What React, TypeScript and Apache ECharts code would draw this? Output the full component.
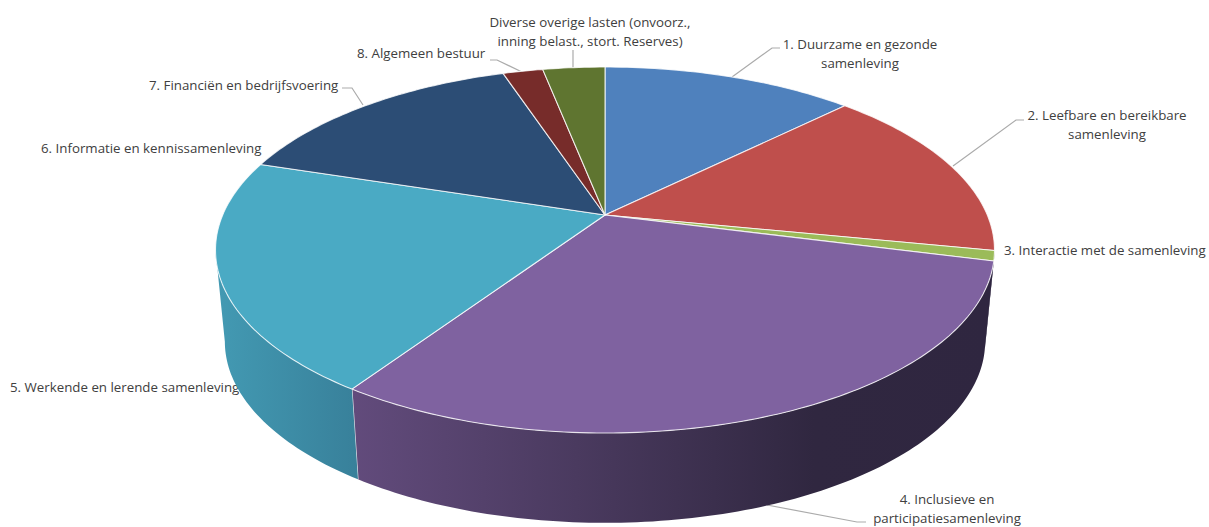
import React, { useEffect, useRef } from "react";
import * as echarts from "echarts";

const labels = [
  "1. Duurzame en gezonde\nsamenleving",
  "2. Leefbare en bereikbare\nsamenleving",
  "3. Interactie met de samenleving",
  "4. Inclusieve en\nparticipatiesamenleving",
  "5. Werkende en lerende samenleving",
  "6. Informatie en kennissamenleving",
  "7. Financiën en bedrijfsvoering",
  "8. Algemeen bestuur",
  "Diverse overige lasten (onvoorz.,\ninning belast., stort. Reserves)",
];
const values = [12.6, 15.5, 0.9, 30.4, 20.5, 0, 15.0, 2.0, 3.1];
const topColors = ["#4f81bd", "#bf4f4c", "#9bbb59", "#7f62a0", "#4aaac4", "#f79646", "#2c4d75", "#772c2a", "#5f7530"];
const wallColors: any[] = [
  "#3f6797",
  "#9a403e",
  "#2f2640",
  new echarts.graphic.LinearGradient(0, 0, 1, 0, [
    { offset: 0, color: "#624b7c" },
    { offset: 0.35, color: "#4a3a5f" },
    { offset: 0.72, color: "#302740" },
    { offset: 1, color: "#2f2640" },
  ]),
  new echarts.graphic.LinearGradient(0, 0, 1, 0, [
    { offset: 0, color: "#439ab3" },
    { offset: 1, color: "#38809a" },
  ]),
  "#c67838",
  "#233e5e",
  "#5f2322",
  "#4c5e26",
];

// Layout of the labels and their leader lines (page pixels)
const labelLayout: { x: number; y: number; align: string }[] = [
  { x: 860, y: 53.5, align: "center" },
  { x: 1107, y: 124.5, align: "center" },
  { x: 1004, y: 250, align: "left" },
  { x: 947, y: 508, align: "center" },
  { x: 10, y: 387, align: "left" },
  { x: 41, y: 148, align: "left" },
  { x: 149, y: 85, align: "left" },
  { x: 357, y: 53, align: "left" },
  { x: 590, y: 31, align: "center" },
];
const leaderLayout: number[][][] = [
  [[732, 77], [772, 48], [780, 48]],
  [[953, 166], [1016, 120], [1024, 120]],
  [],
  [[767, 505], [857, 522], [866, 522]],
  [],
  [],
  [[363, 105], [352, 88], [342, 88]],
  [[522, 72], [497, 60], [490, 60]],
  [[573, 68], [573, 50]],
];

// Projection of the tilted disc
const CX = 605;
const CY = 215;
const A = 382.3;
const B = 176.3;
const K = 0.1913;
const BOTTOM_SCALE_X = 0.976;
const BOTTOM_SCALE_Y = 0.99;
const BOTTOM_DROP = 92;
const total = values.reduce((a, b) => a + b, 0);
const FRONT_FROM = Math.acos(-K);
const FRONT_TO = 2 * Math.PI - FRONT_FROM;

function topPoint(theta: number): number[] {
  const u = Math.sin(theta);
  const v = Math.cos(theta);
  const w = 1 + K * v;
  return [(A * u) / w, (-B * v) / w];
}
function screenTop(theta: number): number[] {
  const p = topPoint(theta);
  return [CX + p[0], CY + p[1]];
}
function screenBottom(theta: number): number[] {
  const p = topPoint(theta);
  return [CX + p[0] * BOTTOM_SCALE_X, CY + p[1] * BOTTOM_SCALE_Y + BOTTOM_DROP];
}
function arc(fn: (t: number) => number[], from: number, to: number): number[][] {
  const n = Math.max(2, Math.ceil(((to - from) * 180) / Math.PI));
  const pts: number[][] = [];
  for (let i = 0; i <= n; i++) pts.push(fn(from + ((to - from) * i) / n));
  return pts;
}

function renderSlice(params: any, api: any) {
  const i = params.dataIndex;
  const value = api.value(0);
  let before = 0;
  for (let j = 0; j < i; j++) before += values[j];
  const start = (before / total) * 2 * Math.PI;
  const end = ((before + value) / total) * 2 * Math.PI;
  const children: any[] = [];
  if (value <= 0) return { type: "group", children };

  const wFrom = Math.max(start, FRONT_FROM);
  const wTo = Math.min(end, FRONT_TO);
  if (wTo > wFrom) {
    const pts = arc(screenTop, wFrom, wTo).concat(arc(screenBottom, wFrom, wTo).reverse());
    children.push({
      type: "polygon",
      shape: { points: pts },
      style: { fill: wallColors[i], stroke: "none" },
      silent: true,
    });
    if (wTo < FRONT_TO && i !== 2) {
      children.push({
        type: "line",
        shape: {
          x1: screenTop(wTo)[0],
          y1: screenTop(wTo)[1],
          x2: screenBottom(wTo)[0],
          y2: screenBottom(wTo)[1],
        },
        style: { stroke: "#e8e8ec", lineWidth: 1.2 },
        silent: true,
      });
    }
  }
  const face = [[CX, CY]].concat(arc(screenTop, start, end));
  children.push({
    type: "polygon",
    shape: { points: face },
    style: { fill: topColors[i], stroke: "#ffffff", strokeOpacity: 0.8, lineWidth: 1.1, lineJoin: "round" },
    silent: true,
  });
  return { type: "group", children };
}

export default function App() {
  const ref = useRef<HTMLDivElement>(null);
  useEffect(() => {
    const chart = echarts.init(ref.current!, null, { renderer: "svg" });
    const graphic: any[] = [];
    leaderLayout.forEach((pts) => {
      if (pts.length)
        graphic.push({
          type: "polyline",
          shape: { points: pts },
          style: { stroke: "#ababab", lineWidth: 1.2, fill: "none" },
          silent: true,
        });
    });
    labels.forEach((text, i) => {
      const l = labelLayout[i];
      graphic.push({
        type: "text",
        x: l.x,
        y: l.y,
        style: {
          text,
          fill: "#404040",
          font: '13.3px "Open Sans", sans-serif',
          lineHeight: 19,
          align: l.align,
          verticalAlign: "middle",
        },
        silent: true,
      });
    });
    chart.setOption({
      animation: false,
      backgroundColor: "#ffffff",
      series: [
        {
          type: "custom",
          coordinateSystem: "none",
          renderItem: renderSlice,
          data: values.map((v, i) => ({ name: labels[i], value: [v] })),
          silent: true,
        },
      ],
      graphic,
    });
    return () => chart.dispose();
  }, []);
  return (
    <div
      ref={ref}
      style={{ position: "absolute", left: 0, top: 0, width: 1209, height: 527 }}
    />
  );
}
